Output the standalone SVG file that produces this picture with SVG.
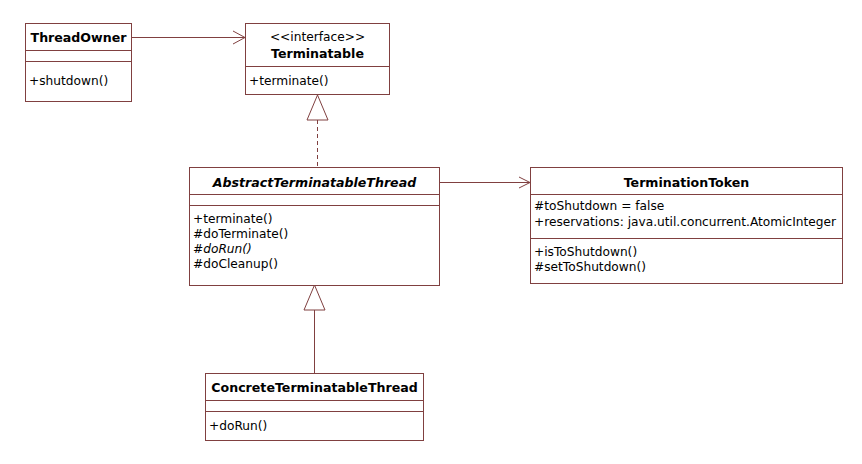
<svg xmlns="http://www.w3.org/2000/svg" width="862" height="464" viewBox="0 0 862 464">
<style>
.box{fill:#fff;stroke:#804040;stroke-width:1}
.ln{stroke:#804040;stroke-width:1;fill:none}
text{font-family:"DejaVu Sans","Liberation Sans",sans-serif;font-size:12.2px;fill:#000}
.t{font-weight:bold;font-size:12.6px;text-anchor:middle}
.c{text-anchor:middle}
</style>
<rect width="862" height="464" fill="#fff"/>
<g id="connectors">
<path class="ln" d="M131,37.5 H245 M233,31 L245,37.5 L233,44"/>
<path class="ln" d="M317.5,120 V167" stroke-dasharray="4,3"/>
<path class="ln" d="M317.5,95 L307,120 H328 Z"/>
<path class="ln" d="M439,182.5 H530 M519,177 L530,182.5 L519,188"/>
<path class="ln" d="M314.5,310 V373"/>
<path class="ln" d="M314.5,285 L304,310 H325 Z"/>
</g>
<g id="ThreadOwner">
<rect class="box" x="25.5" y="23.5" width="106" height="78"/>
<path class="ln" d="M25.5,50.5 H131.5 M25.5,61.5 H131.5"/>
<text class="t" x="78.5" y="41.5">ThreadOwner</text>
<text x="29" y="84.5">+shutdown()</text>
</g>
<g id="Terminatable">
<rect class="box" x="245.5" y="23.5" width="144" height="71"/>
<path class="ln" d="M245.5,66.5 H389.5"/>
<text class="c" x="317.5" y="41">&lt;&lt;interface&gt;&gt;</text>
<text class="t" x="317.5" y="57.5">Terminatable</text>
<text x="249" y="84.5">+terminate()</text>
</g>
<g id="AbstractTerminatableThread">
<rect class="box" x="189.5" y="167.5" width="250" height="118"/>
<path class="ln" d="M189.5,194.5 H439.5 M189.5,205.5 H439.5"/>
<text class="t" x="314.5" y="186.5" font-style="italic">AbstractTerminatableThread</text>
<text x="193" y="222.5">+terminate()</text>
<text x="193" y="237.5">#doTerminate()</text>
<text x="193" y="252.5" font-style="italic">#doRun()</text>
<text x="193" y="267.5">#doCleanup()</text>
</g>
<g id="TerminationToken">
<rect class="box" x="530.5" y="167.5" width="312" height="116"/>
<path class="ln" d="M530.5,194.5 H842.5 M530.5,238.5 H842.5"/>
<text class="t" x="686.5" y="186.5">TerminationToken</text>
<text x="534" y="209.5">#toShutdown = false</text>
<text x="534" y="225.5">+reservations: java.util.concurrent.AtomicInteger</text>
<text x="534" y="255.5">+isToShutdown()</text>
<text x="534" y="270.5">#setToShutdown()</text>
</g>
<g id="ConcreteTerminatableThread">
<rect class="box" x="205.5" y="373.5" width="218" height="67"/>
<path class="ln" d="M205.5,400.5 H423.5 M205.5,411.5 H423.5"/>
<text class="t" x="314.5" y="391.5">ConcreteTerminatableThread</text>
<text x="209" y="429.5">+doRun()</text>
</g>
</svg>
